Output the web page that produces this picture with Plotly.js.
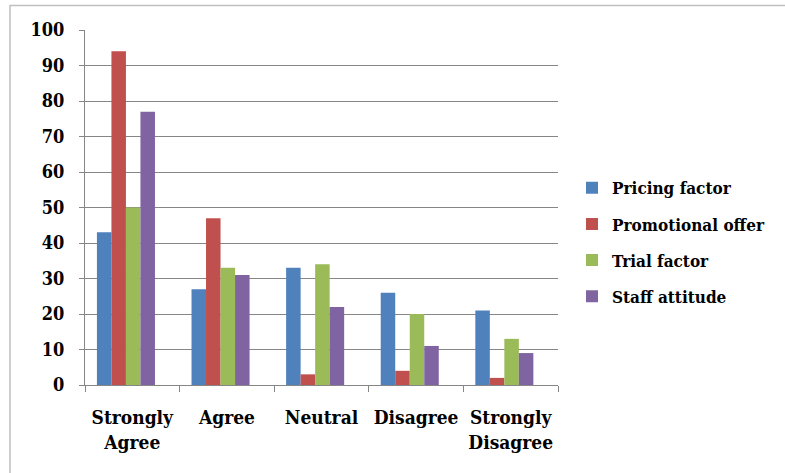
<!DOCTYPE html>
<html>
<head>
<meta charset="utf-8">
<script src="https://cdn.plot.ly/plotly-3.0.1.min.js"></script>
<style>html,body{margin:0;padding:0;background:#fff;}#chart{width:785px;height:473px;}</style>
</head>
<body>
<div id="chart"></div>
<script>
const categories = ["Strongly<br>Agree", "Agree", "Neutral", "Disagree", "Strongly<br>Disagree"];
const seriesNames = ["Pricing factor", "Promotional offer", "Trial factor", "Staff attitude"];
const pricingFactor = [43, 27, 33, 26, 21];
const promotionalOffer = [94, 47, 3, 4, 2];
const trialFactor = [50, 33, 34, 20, 13];
const staffAttitude = [77, 31, 22, 11, 9];
const yTicks = [0, 10, 20, 30, 40, 50, 60, 70, 80, 90, 100];

const colors = ["#4F81BD", "#C0504D", "#9BBB59", "#8064A2"];
const values = [pricingFactor, promotionalOffer, trialFactor, staffAttitude];
const font = "DejaVu Serif Condensed";

const barW = 0.1534;
const groupStart = -0.374;

const data = values.map((v, i) => ({
  type: "bar",
  name: seriesNames[i],
  x: categories,
  y: v,
  width: barW,
  offset: groupStart + i * barW,
  legendgroup: "g" + i,
  marker: {color: colors[i], line: {width: 0}},
  hoverinfo: "x+y+name"
}));

const layout = {
  width: 785,
  height: 473,
  margin: {l: 85, r: 227, t: 29.5, b: 88, pad: 0},
  paper_bgcolor: "#fff",
  plot_bgcolor: "#fff",
  barmode: "overlay",
  font: {family: font, size: 18, color: "#000"},
  xaxis: {
    type: "category",
    range: [-0.5, 4.5],
    automargin: false,
    tickangle: 0,
    showline: true,
    linecolor: "#868686",
    linewidth: 1,
    ticks: "outside",
    tickson: "boundaries",
    ticklen: 6,
    tickcolor: "#868686",
    showgrid: false,
    ticklabelstandoff: 15,
    tickfont: {family: font, size: 19, color: "#000", weight: "bold"},
    zeroline: false
  },
  yaxis: {
    range: [0, 100],
    automargin: false,
    tickvals: yTicks,
    ticktext: yTicks.map(String),
    showline: true,
    linecolor: "#868686",
    linewidth: 1,
    ticks: "outside",
    ticklen: 5,
    tickcolor: "#868686",
    showgrid: true,
    gridcolor: "#868686",
    gridwidth: 1,
    zeroline: false,
    ticklabelstandoff: 11,
    tickfont: {family: font, size: 18, color: "#000", weight: "bold"}
  },
  legend: {
    x: 1.0296,
    xanchor: "left",
    y: 0.402,
    yanchor: "middle",
    traceorder: "grouped",
    tracegroupgap: 11,
    font: {family: font, size: 17, color: "#000", weight: "bold"},
    bgcolor: "rgba(0,0,0,0)",
    borderwidth: 0
  },
  shapes: [{
    type: "rect", xref: "paper", yref: "paper",
    x0: -75/473, x1: 2, y0: -2, y1: 1 + 24.5/355.5,
    line: {color: "#BFBFBF", width: 1.5}, fillcolor: "rgba(0,0,0,0)", layer: "below"
  }],
  showlegend: true
};

Plotly.newPlot("chart", data, layout, {displayModeBar: false, staticPlot: true});
</script>
</body>
</html>
